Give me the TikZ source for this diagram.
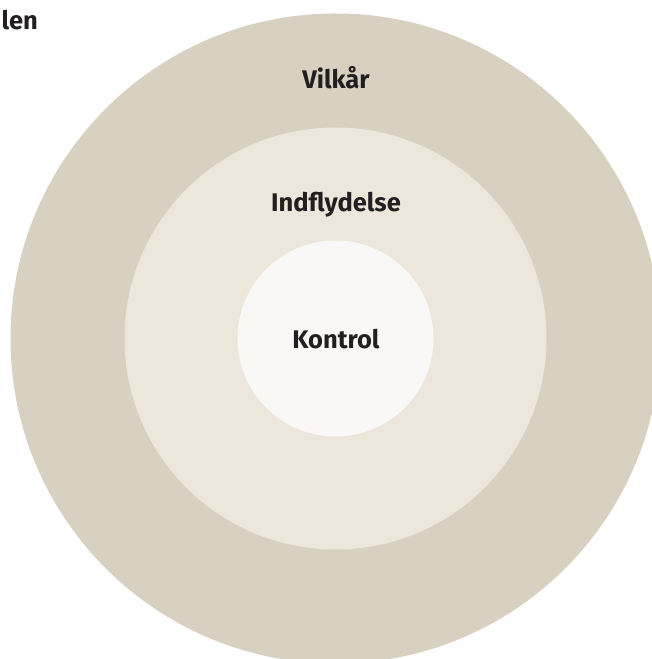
\documentclass[tikz,border=0pt]{standalone}
\usepackage{fontspec}
\setmainfont{Fira Sans}[UprightFont=* SemiBold, BoldFont=* Bold]
\definecolor{ringout}{HTML}{D8D0C1}
\definecolor{ringmid}{HTML}{EDE6DA}
\definecolor{ringin}{HTML}{F9F8F6}
\definecolor{ink}{HTML}{231F20}
\begin{document}
\begin{tikzpicture}[x=1pt,y=1pt,
  lbl/.style={text=ink,font=\fontsize{25.5}{30}\selectfont\bfseries,inner sep=0pt}]
\useasboundingbox (0,0) rectangle (652,659);
\begin{scope}
\clip (0,0) rectangle (652,659);
\coordinate (c) at (335.5,320.5);
\fill[ringout] (c) circle (325);
\fill[ringmid] (c) circle (211);
\fill[ringin] (c) circle (98);
\end{scope}
\node[lbl,anchor=base] (vilkar) at (336,570) {Vilkår};
\node[lbl,anchor=base] (indfl) at (336,447) {Indflydelse};
\node[lbl,anchor=base] (kontrol) at (336,310) {Kontrol};
\node[lbl,anchor=base east] (len) at (38,629) {len};
\end{tikzpicture}
\end{document}
